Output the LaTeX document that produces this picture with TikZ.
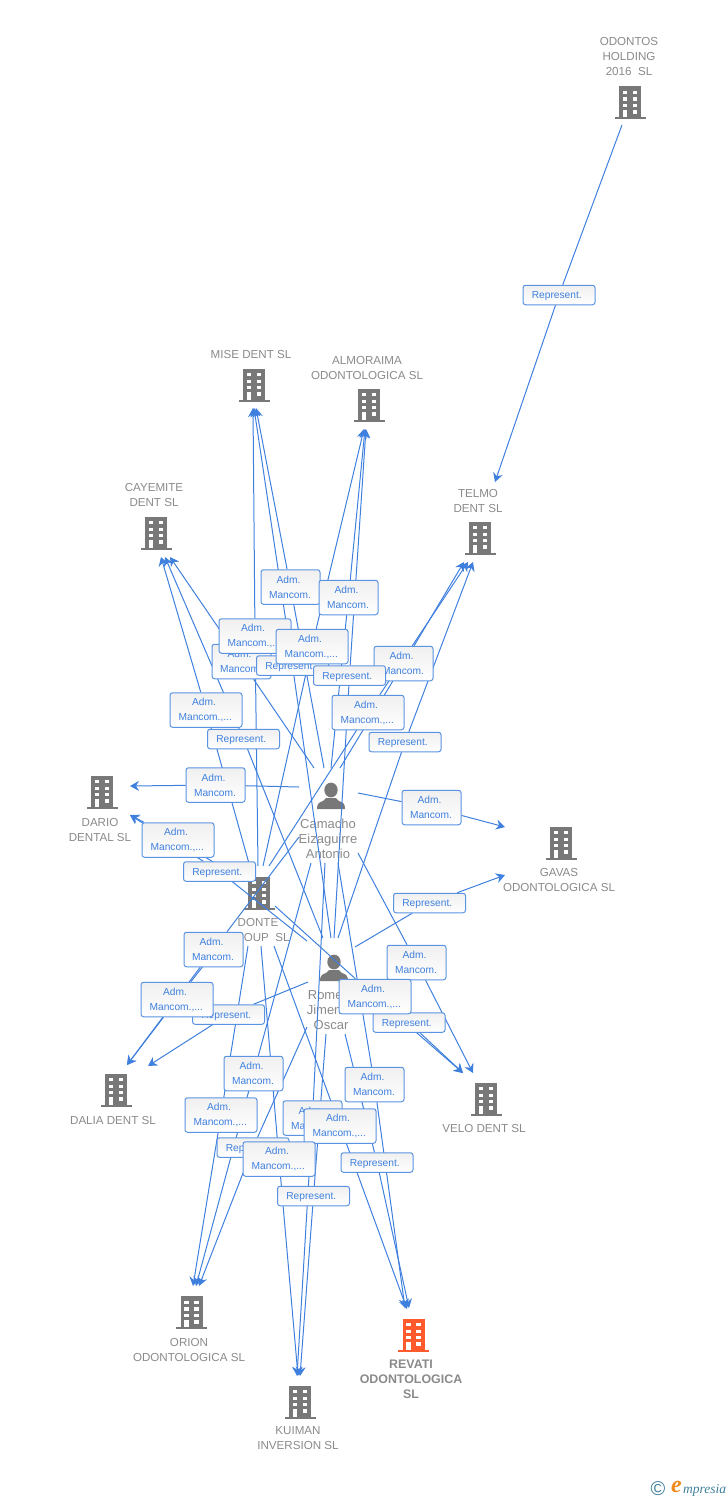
\documentclass[tikz,border=0pt]{standalone}
\usepackage{fontspec}
\setmainfont{Liberation Sans}
\newfontfamily\serifit{Liberation Serif}
\usetikzlibrary{arrows.meta}

\definecolor{linkblue}{HTML}{3F80DE}
\definecolor{boxblue}{HTML}{5A93E2}
\definecolor{iconGray}{HTML}{787878}
\definecolor{nameGray}{HTML}{8A8A8A}
\definecolor{hotOrange}{HTML}{FF5A2B}
\definecolor{tealMark}{HTML}{3F7F9C}
\definecolor{orangeMark}{HTML}{F08A1D}

\pgfdeclarelayer{boxes}
\pgfsetlayers{main,boxes}

\tikzset{
  pics/building/.style={code={
    \fill[#1] (-11,-16.5) rectangle (11,14.5);
    \fill[#1] (-15.5,14.5) rectangle (15.5,16.5);
    \fill[white] (-7.2,-12) rectangle ++(4.4,3.4);
    \fill[white] (2.6,-12) rectangle ++(4.6,3.4);
    \fill[white] (-7.2,-5.3) rectangle ++(4.4,3.4);
    \fill[white] (2.6,-5.3) rectangle ++(4.6,3.4);
    \fill[white] (-7.2,1) rectangle ++(4.4,3.4);
    \fill[white] (2.6,1) rectangle ++(4.6,3.4);
    \fill[white] (2.6,7.3) rectangle ++(4.6,3.8);
    \fill[white] (-7.2,7.3) rectangle (-2.8,14.5);
  }},
  pics/person/.style={code={
    \fill[iconGray] (0,-6) ellipse (6.7 and 7.4);
    \fill[iconGray] (-14,13) .. controls (-14,8) and (-12.5,6.5) .. (-8,5)
      -- (-5,2) -- (5,2) -- (8,5) .. controls (12.5,6.5) and (14,8) .. (14,13) -- cycle;
  }}
}

% Define label box and name styles
\tikzstyle{linkbox}=[draw=boxblue, line width=1pt, rounded corners=2.5,
                     top color=black!6, bottom color=white, text=linkblue,
                     align=center, inner sep=0pt,
                     font=\fontsize{10.2}{15}\selectfont]
\tikzstyle{admbox}=[linkbox, minimum width=59, minimum height=34.5]
\tikzstyle{repbox}=[linkbox, minimum width=72, minimum height=19.5]
\tikzstyle{dotbox}=[linkbox, minimum width=72, minimum height=34.5]
\tikzstyle{compname}=[text=nameGray, align=center, inner sep=0pt,
                      font=\fontsize{11.6}{15}\selectfont]
\tikzstyle{persname}=[compname, font=\fontsize{13}{15}\selectfont]
\tikzstyle{edge}=[linkblue, line width=1pt, -{Stealth[length=9,width=10,inset=3]}]

\begin{document}
\begin{tikzpicture}[x=1pt,y=-1pt]
\useasboundingbox (0,0) rectangle (728,1500);

% companies
\foreach \x/\y in {630/102.5, 254/385, 369/405, 156/533, 480/538, 102/792,
    561/843, 259/893, 116/1090, 486/1099, 191.5/1312.5, 300/1402}{
  \pic at (\x,\y) {building=iconGray};
}
\pic at (413.5,1335) {building=hotOrange};
\node[compname] (odontos) at (629,57) {ODONTOS\\HOLDING\\2016\ \ SL};
\node[compname] (mise) at (251,354) {MISE DENT SL};
\node[compname] (almoraima) at (367,367.5) {ALMORAIMA\\ODONTOLOGICA SL};
\node[compname] (cayemite) at (154,495) {CAYEMITE\\DENT SL};
\node[compname] (telmo) at (478,500.5) {TELMO\\DENT SL};
\node[compname] (dario) at (100,829.5) {DARIO\\DENTAL SL};
\node[compname] (gavas) at (559,879.5) {GAVAS\\ODONTOLOGICA SL};
\node[compname] (donte) at (258,929.5) {DONTE\\GROUP\ \ SL};
\node[compname] (dalia) at (113,1120) {DALIA DENT SL};
\node[compname] (velo) at (484,1128) {VELO DENT SL};
\node[compname] (orion) at (189,1349.5) {ORION\\ODONTOLOGICA SL};
\node[compname] (kuiman) at (298,1438.5) {KUIMAN\\INVERSION SL};
\node[compname, font=\fontsize{12.4}{15}\selectfont\bfseries] (revati) at (411,1379)
  {REVATI\\ODONTOLOGICA\\SL};

% persons
\pic at (331,796) {person};
\node[persname] (camacho) at (328,838.5) {Camacho\\Eizaguirre\\Antonio};
\pic at (334,968) {person};
\node[persname] (romero) at (331,1010) {Romero\\Jimenez\\Oscar};

\node[inner sep=0pt, text=tealMark, font=\fontsize{20}{20}\selectfont] (copymark) at (658,1489) {©};
\node[inner sep=0pt, anchor=west, text=orangeMark, font=\fontsize{24}{24}\serifit\itshape\bfseries] (markE) at (671,1487) {e};
\node[inner sep=0pt, anchor=west, text=tealMark, font=\fontsize{13.5}{14}\serifit\itshape] (markrest) at (683,1490) {mpresia};

% label boxes
\begin{pgfonlayer}{boxes}
\foreach \nm/\x/\y in {cmise/290.5/587, calmo/348.5/597.5, ccaye/241.5/661.5,
    ctelmo/403.5/663.5, cdario/215.5/785, cgavas/431.5/807.5, cdalia/213.5/949.5,
    cvelo/416.5/962.5, corion/253.5/1073.5, crevati/374.5/1084.5, ckuiman/312.5/1118}{
  \node[admbox] (\nm) at (\x,\y) {Adm.\kern4pt\\Mancom.\kern1pt};
}
\foreach \nm/\x/\y in {orep/559/295, rmise/292.5/665.5, ralmo/349.5/675.5,
    rcaye/243.5/739, rtelmo/405/742, rdario/219.5/871.5, rgavas/429.5/903,
    rdalia/228.5/1014.5, rvelo/409/1022.5, rorion/253/1147.5, rrevati/377/1162.5,
    rkuiman/313.5/1196}{
  \node[repbox] (\nm) at (\x,\y) {\raisebox{-3.6pt}[0pt][0pt]{Represent.\kern4.5pt}};
}
\foreach \nm/\x/\y in {dmise/255/636, dalmo/312/646.5, dcaye/206/710,
    dtelmo/368/712.5, ddario/178/840, dvelo/375/996.5, ddalia/177/999.5,
    dorion/221/1115, drevati/340/1126, dkuiman/279/1159}{
  \node[dotbox] (\nm) at (\x,\y) {Adm.\kern4pt\\Mancom.,...\kern1.5pt};
}
\end{pgfonlayer}

% links, start and tip of each one
\foreach \lab/\sx/\sy/\tx/\ty in {
  orep/622/125/495/482,
  cmise/324/768/256/408, calmo/331/768/365/429, ccaye/314/768/170/557,
  ctelmo/340/768/464/562, cdario/299/787/130/786, cgavas/358/793/505/827,
  cvelo/358/853/473/1073, cdalia/299/837/127/1065, corion/311/863/196/1286,
  ckuiman/325/863/297/1376, crevati/338/863/405/1308,
  rmise/331/938/254/408, ralmo/334/938/366/429, rcaye/323/938/165/557,
  rtelmo/338/938/473/562, rdario/307/941/130/815, rgavas/355/947/505/875,
  rvelo/360/985/463/1073, rdalia/308/982/148/1066, rorion/307/1027/199/1286,
  rkuiman/326/1034/300/1376, rrevati/345/1034/409/1308,
  dmise/258/866/253/408, dalmo/263/866/364/429, dcaye/250/867/161/557,
  dtelmo/269/866/468/562, ddario/229/872/130/815, dvelo/275/906/463/1073,
  ddalia/225/938/127/1065, dorion/248/946/193/1286, dkuiman/261/946/298/1376,
  drevati/274/946/407/1309}{
  \coordinate (\lab from) at (\sx,\sy);
  \coordinate (\lab tip) at (\tx,\ty);
  \draw[edge] (\lab from) -- (\lab) -- (\lab tip);
}

\end{tikzpicture}
\end{document}
